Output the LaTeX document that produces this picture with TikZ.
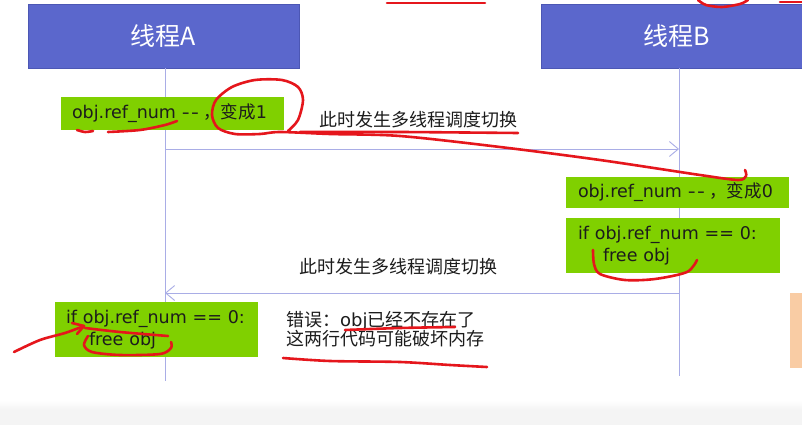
\documentclass[tikz,border=0pt]{standalone}
\usepackage{fontspec}
\setmainfont{DejaVu Sans}
\newfontfamily\cjk{Noto Sans CJK SC}
\usetikzlibrary{arrows.meta}
\definecolor{hdr}{HTML}{5B67CC}
\definecolor{hdrline}{HTML}{4C57B4}
\definecolor{grn}{HTML}{80D000}
\definecolor{txt}{HTML}{1C1C1C}
\definecolor{life}{HTML}{A9ADE6}
\definecolor{pen}{HTML}{E5161C}
\definecolor{peach}{HTML}{F9CCA4}
\definecolor{band}{HTML}{F4F4F4}
\newcommand{\dd}{\scalebox{1.25}[1]{-}\hspace{1.5pt}\scalebox{1.25}[1]{-}\hspace{0.25em}}
\begin{document}
\begin{tikzpicture}[x=1pt,y=-1pt,
  hdrbox/.style={draw=hdrline, line width=0.8pt, fill=hdr, text=white, inner sep=0pt,
    font=\cjk\fontsize{25}{28}\selectfont},
  greenbox/.style={fill=grn, text=txt, inner ysep=0pt, align=left,
    font=\fontsize{17.5}{22}\selectfont},
  msg/.style={text=txt, font=\cjk\fontsize{18}{22}\selectfont, inner sep=0pt},
  lifeline/.style={draw=life, line width=0.9pt},
  call/.style={draw=life, line width=0.9pt, -{Straight Barb[length=9pt,width=15pt,line width=0.9pt]}},
  scrib/.style={draw=pen, line width=2.6pt, line cap=round, line join=round}]
\useasboundingbox (0,0) rectangle (802,425);
\clip (0,0) rectangle (802,425);
\fill[white] (0,0) rectangle (802,425);
\fill[top color=white, bottom color=band] (0,400) rectangle (802,410);
\fill[band] (0,410) rectangle (802,425);

% headers
\node[hdrbox, minimum width=271pt, minimum height=64pt] (ha) at (163.5,36) {线程A};
\node[hdrbox, minimum width=280pt, minimum height=64pt, anchor=west] (hb) at (541,36) {};
\node[text=white, font=\cjk\fontsize{25}{28}\selectfont, inner sep=0pt] (hbt) at (677,36) {线程B};

% lifelines
\coordinate (aend) at (165,381);
\coordinate (bend) at (679,376);
\draw[lifeline] (ha.south -| aend) -- (aend);
\draw[lifeline] (hb.south -| bend) -- (bend);

% messages
\coordinate (a1) at (165,149);
\coordinate (b1) at (679,149);
\coordinate (a2) at (165,293);
\coordinate (b2) at (679,293);
\draw[call] (a1) -- (b1);
\draw[call] (b2) -- (a2);
\node[msg] (m1) at (418,120) {此时发生多线程调度切换};
\node[msg] (m2) at (398,267) {此时发生多线程调度切换};

% green boxes
\node[greenbox, inner xsep=11pt, text width=201pt, minimum height=33pt] (g1) at (172.5,113.5)
  {obj.ref\_num \dd{\cjk ，变成}1};
\node[greenbox, inner xsep=12pt, text width=199pt, minimum height=31pt] (g2) at (677.5,192.5)
  {obj.ref\_num \dd{\cjk ，变成}0};
\node[greenbox, inner xsep=12pt, text width=190pt, minimum height=55pt] (g3) at (673,245.5)
  {if obj.ref\_num == 0:\\\hspace*{25pt}free obj};
\node[greenbox, inner xsep=11pt, text width=181pt, minimum height=55pt] (g4) at (156.5,329.5)
  {if obj.ref\_num == 0:\\\hspace*{23pt}free obj};

% error text
\node[msg, anchor=west, align=left, font=\cjk\fontsize{18}{19}\selectfont] (err) at (286,329)
  {错误：{\fontspec{DejaVu Sans}obj}已经不存在了\\这两行代码可能破坏内存};

% side peach panel
\fill[peach] (790,293) rectangle (805,368);

% red pen annotations
\draw[scrib] (387,3) -- (485,3);
\draw[scrib] plot[smooth] coordinates {(698,0) (706,5) (722,7) (740,4) (748,0)};
\draw[scrib] (780,2) -- (805,2);
\draw[scrib] plot[smooth] coordinates {(288,131) (298,120) (303,100) (298,87) (282,80) (255,80) (232,87) (216,100) (212,115) (218,128) (235,134) (260,134) (280,132)
  (330,134) (400,136) (500,147) (600,160) (700,175) (738,180) (746,176) (745,170)};
\draw[scrib] plot[smooth] coordinates {(300,132) (400,132) (518,133)};
\draw[scrib] plot[smooth] coordinates {(77,130) (85,132) (93,131)};
\draw[scrib] plot[smooth] coordinates {(108,132) (140,130) (165,125) (177,121)};
\draw[scrib] plot[smooth] coordinates {(593,250) (594,264) (600,274) (625,280) (655,279) (687,272) (697,260)};
\draw[scrib] plot[smooth] coordinates {(14,352) (40,340) (65,333) (84,326)};
\draw[scrib] (72,323) -- (84,326) -- (77,334);
\draw[scrib] plot[smooth] coordinates {(85,328) (120,332) (168,336)};
\draw[scrib] plot[smooth] coordinates {(88,336) (84,345) (92,352) (120,355) (160,354) (171,348) (171,342)};
\draw[scrib] plot[smooth] coordinates {(345,330) (400,328) (455,327)};
\draw[scrib] plot[smooth] coordinates {(283,358) (330,361) (400,362) (450,365) (487,367)};
\end{tikzpicture}
\end{document}
